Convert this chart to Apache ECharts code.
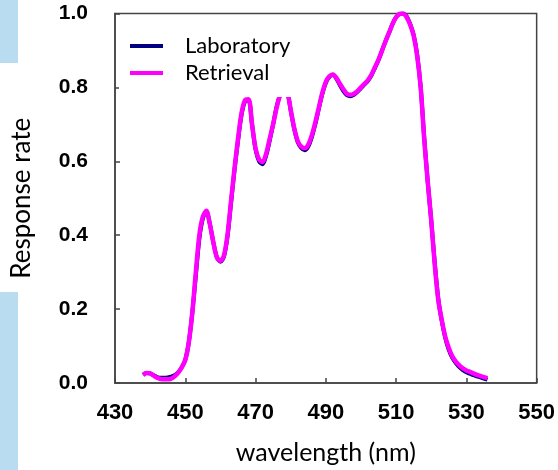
<!DOCTYPE html>
<html>
<head>
<meta charset="utf-8">
<script src="https://cdn.jsdelivr.net/npm/echarts@6/dist/echarts.min.js"></script>
<style>
html,body{margin:0;padding:0;background:#fff;}
#chart{width:558px;height:470px;}
</style>
</head>
<body>
<div id="chart"></div>
<script>
// Data
var wavelengths = [438,439,440,441,442,443,444,445,446,447,448,449,450,451,452,453,454,455,456,457,458,459,460,461,462,463,464,465,466,467,468,469,470,471,472,473,474,475,476,477,478,479,480,481,482,483,484,485,486,487,488,489,490,491,492,493,494,495,496,497,498,499,500,501,502,503,504,505,506,507,508,509,510,511,512,513,514,515,516,517,518,519,520,521,522,523,524,525,526,527,528,529,530,531,532,533,534,535,536];
var laboratory = [0.022,0.027,0.026,0.021,0.016,0.014,0.014,0.015,0.017,0.021,0.029,0.043,0.063,0.11,0.19,0.29,0.39,0.445,0.464,0.43,0.38,0.34,0.328,0.342,0.395,0.485,0.575,0.655,0.725,0.762,0.766,0.70,0.632,0.6,0.592,0.615,0.655,0.70,0.748,0.78,0.80,0.79,0.738,0.688,0.652,0.636,0.63,0.64,0.665,0.70,0.742,0.782,0.812,0.828,0.834,0.824,0.806,0.79,0.779,0.776,0.78,0.788,0.798,0.808,0.818,0.833,0.853,0.874,0.90,0.925,0.948,0.972,0.99,0.999,1.0,0.992,0.972,0.942,0.888,0.80,0.665,0.545,0.44,0.325,0.228,0.168,0.122,0.09,0.068,0.054,0.043,0.035,0.029,0.025,0.021,0.018,0.015,0.012,0.009];
var retrieval = [0.022,0.027,0.026,0.020,0.014,0.011,0.010,0.010,0.012,0.018,0.028,0.042,0.062,0.11,0.19,0.30,0.40,0.45,0.466,0.43,0.38,0.34,0.33,0.345,0.40,0.49,0.58,0.66,0.73,0.765,0.768,0.70,0.635,0.605,0.598,0.62,0.66,0.70,0.745,0.78,0.80,0.79,0.74,0.69,0.655,0.64,0.635,0.645,0.67,0.705,0.745,0.785,0.815,0.83,0.835,0.826,0.81,0.795,0.783,0.78,0.783,0.79,0.80,0.81,0.82,0.835,0.855,0.875,0.90,0.925,0.948,0.972,0.99,0.999,1.0,0.99,0.97,0.94,0.885,0.80,0.66,0.545,0.44,0.32,0.225,0.17,0.125,0.095,0.072,0.058,0.048,0.04,0.034,0.030,0.026,0.022,0.019,0.016,0.013];
var seriesNames = ['Laboratory','Retrieval'];
var seriesColors = ['#000080','#ff00ff'];
var xTicks = [430,450,470,490,510,530,550];
var yTicks = [0.0,0.2,0.4,0.6,0.8,1.0];

function pairs(xs, ys){ return xs.map(function(x,i){ return [x, ys[i]]; }); }

var chart = echarts.init(document.getElementById('chart'), null, {renderer:'canvas'});
chart.setOption({
  animation:false,
  backgroundColor:'#ffffff',
  graphic:[
    {type:'rect', z:-10, shape:{x:0,y:0,width:18,height:63}, style:{fill:'#b9dcf0'}},
    {type:'rect', z:-10, shape:{x:0,y:292,width:18,height:178}, style:{fill:'#b9dcf0'}}
  ],
  grid:{left:115,right:19,top:13.5,bottom:81,show:true,borderColor:'#444',borderWidth:1.5,backgroundColor:'transparent'},
  legend:{
    orient:'vertical', left:119, top:22,
    padding:[13,10,13,11], itemGap:5,
    backgroundColor:'#ffffff', z:10,
    icon:'rect', itemWidth:33, itemHeight:4,
    textStyle:{fontFamily:'Lato', fontSize:22, lineHeight:22, color:'#000', padding:[0,0,0,17]},
    data:seriesNames
  },
  xAxis:{
    type:'value', min:xTicks[0], max:xTicks[xTicks.length-1], interval:20,
    name:'wavelength (nm)', nameLocation:'middle', nameGap:57,
    nameTextStyle:{fontFamily:'Lato', fontSize:25, color:'#000'},
    axisLine:{show:true, lineStyle:{color:'#444', width:1.5}},
    axisTick:{show:true, inside:true, length:5, lineStyle:{color:'#444', width:1.5}},
    axisLabel:{margin:19, fontFamily:'Liberation Sans', fontWeight:'bold', fontSize:22, color:'#000'},
    splitLine:{show:false}
  },
  yAxis:{
    type:'value', min:yTicks[0], max:yTicks[yTicks.length-1], interval:0.2,
    name:'Response rate', nameLocation:'middle', nameGap:80,
    nameTextStyle:{fontFamily:'Lato', fontSize:26, color:'#000'},
    axisLine:{show:true, lineStyle:{color:'#444', width:1.5}},
    axisTick:{show:true, inside:true, length:5, lineStyle:{color:'#444', width:1.5}},
    axisLabel:{margin:27, fontFamily:'Liberation Sans', fontWeight:'bold', fontSize:21, color:'#000',
      formatter:function(v){ return v.toFixed(1); }},
    splitLine:{show:false}
  },
  series:[
    {name:seriesNames[0], type:'line', data:pairs(wavelengths, laboratory), showSymbol:false, smooth:0.3,
     color:seriesColors[0], lineStyle:{color:seriesColors[0], width:4}, z:2},
    {name:seriesNames[1], type:'line', data:pairs(wavelengths, retrieval), showSymbol:false, smooth:0.3,
     color:seriesColors[1], lineStyle:{color:seriesColors[1], width:4.5}, z:3}
  ]
});
</script>
</body>
</html>
